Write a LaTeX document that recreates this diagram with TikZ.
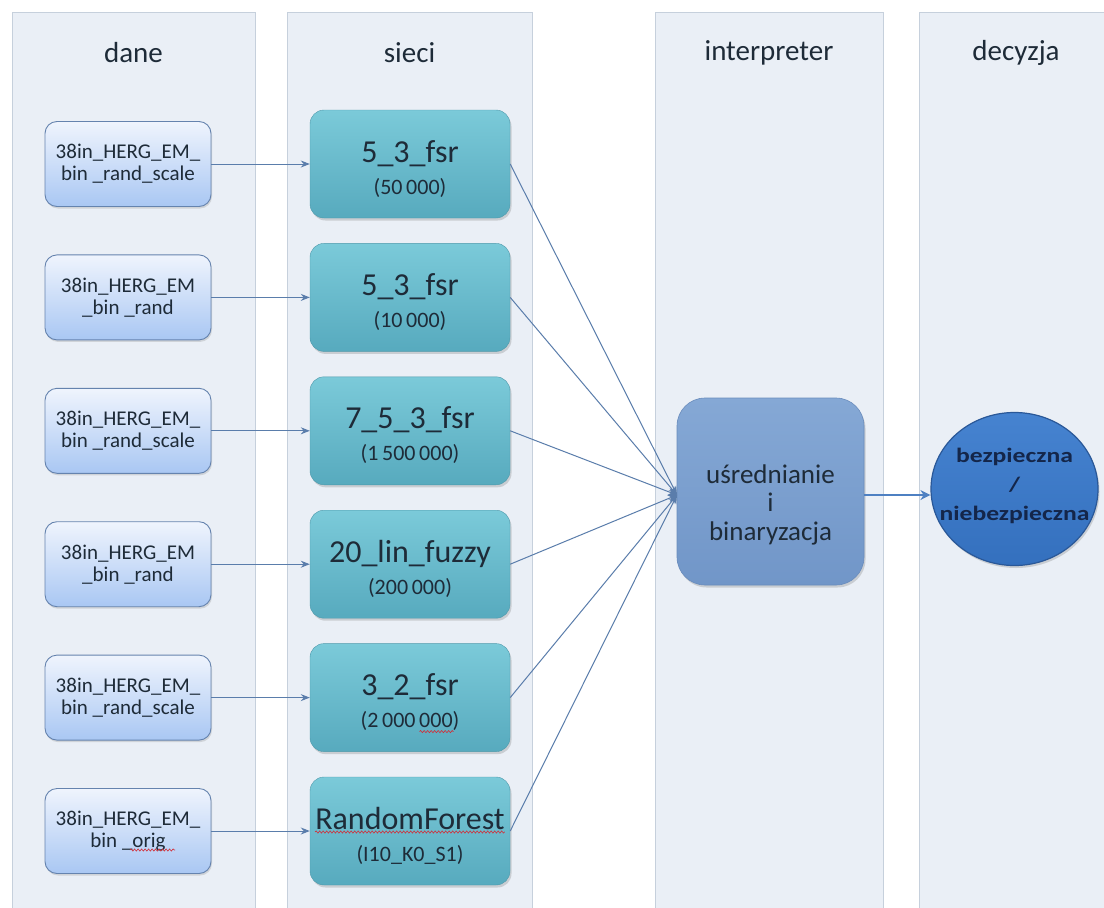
\documentclass[tikz,border=0pt]{standalone}
\usepackage{fontspec}
\usepackage{graphicx}
\setmainfont{Carlito}
\usetikzlibrary{shadows,arrows.meta,decorations.pathmorphing,calc,shapes.geometric}

\definecolor{colbg}{HTML}{EAEFF6}
\definecolor{colline}{HTML}{C6D0DC}
\definecolor{datatop}{HTML}{EFF4FD}
\definecolor{databot}{HTML}{A9C7F3}
\definecolor{dataedge}{HTML}{6583AE}
\definecolor{nettop}{HTML}{7BCAD9}
\definecolor{netbot}{HTML}{57AABE}
\definecolor{interptop}{HTML}{85A8D5}
\definecolor{interpbot}{HTML}{7196C8}
\definecolor{interpedge}{HTML}{6A8CBC}
\definecolor{dectop}{HTML}{4683D0}
\definecolor{decbot}{HTML}{3470BE}
\definecolor{decedge}{HTML}{2A5898}
\definecolor{conn}{HTML}{5A7DAB}
\definecolor{outconn}{HTML}{4E80C2}
\definecolor{txt}{HTML}{1E2B38}
\definecolor{dectxt}{HTML}{14264A}
\definecolor{squig}{HTML}{D0303A}

\tikzset{
  lane/.style={fill=colbg, draw=colline, line width=1pt},
  lanehead/.style={font=\fontsize{29}{34}\selectfont, text=txt},
  databox/.style={draw=dataedge, line width=0.9pt, rounded corners=12pt,
    top color=datatop, bottom color=databot,
    minimum width=166pt, minimum height=85pt, inner sep=0pt,
    align=center, font=\fontsize{21}{22}\selectfont, text=txt,
    drop shadow={shadow xshift=1pt, shadow yshift=-2pt, opacity=0.25}},
  netbox/.style={rounded corners=14pt, top color=nettop, bottom color=netbot,
    draw=netbot!90!black, line width=0.4pt,
    minimum width=200pt, minimum height=108pt, inner sep=0pt,
    drop shadow={shadow xshift=1.5pt, shadow yshift=-2.5pt, opacity=0.3}},
  nettitle/.style={font=\fontsize{32}{36}\selectfont, text=txt, anchor=base, inner sep=0pt},
  netsub/.style={font=\fontsize{22}{26}\selectfont, text=txt, anchor=base, inner sep=0pt},
  interpbox/.style={rounded corners=28pt, top color=interptop, bottom color=interpbot,
    draw=interpedge, line width=0.6pt, minimum width=187pt, minimum height=187pt,
    inner sep=0pt, drop shadow={shadow xshift=1.5pt, shadow yshift=-2.5pt, opacity=0.3}},
  interptext/.style={font=\fontsize{27}{28.5}\selectfont, text=txt, align=center,
    anchor=base, inner sep=0pt},
  decnode/.style={ellipse, top color=dectop, bottom color=decbot, draw=decedge,
    line width=1.2pt, minimum width=167pt, minimum height=153pt, inner sep=0pt,
    drop shadow={shadow xshift=1.5pt, shadow yshift=-2.5pt, opacity=0.3}},
  dectext/.style={font=\bfseries\fontsize{20.5}{29}\selectfont, text=dectxt, align=center,
    anchor=base, inner sep=0pt},
  link/.style={draw=conn, line width=1pt, -{Stealth[length=9pt,width=7pt]}},
  outlink/.style={draw=outconn, line width=2.6pt, -{Stealth[length=10pt,width=10pt]}},
  spell/.style={draw=squig, line width=0.6pt, decorate,
    decoration={snake, amplitude=1.1pt, segment length=3.5pt}},
}

\begin{document}
\begin{tikzpicture}[x=1pt,y=-1pt]
\useasboundingbox (0,0) rectangle (1104,908);
\fill[white] (0,0) rectangle (1104,908);

\begin{scope}
\clip (0,0) rectangle (1104,908);
% swimlanes
\draw[lane] (12,12) rectangle (255,930);
\draw[lane] (287,12) rectangle (532,930);
\draw[lane] (655,12) rectangle (883,930);
\draw[lane] (919,12) rectangle (1113,930);
\end{scope}

\node[lanehead] (hdane) at (133.5,53) {dane};
\node[lanehead] (hsieci) at (409.5,53) {sieci};
\node[lanehead] (hinterp) at (769,53) {interpreter};
\node[lanehead] (hdec) at (1016,53) {decyzja};

% input data sets
\node[databox] (d1) at (128,164)   {38in\_HERG\_EM\_\\bin \_rand\_scale};
\node[databox] (d2) at (128,297.4) {38in\_HERG\_EM\\\_bin \_rand};
\node[databox] (d3) at (128,430.8) {38in\_HERG\_EM\_\\bin \_rand\_scale};
\node[databox] (d4) at (128,564.2) {38in\_HERG\_EM\\\_bin \_rand};
\node[databox] (d5) at (128,697.6) {38in\_HERG\_EM\_\\bin \_rand\_scale};
\node[databox] (d6) at (128,831)   {38in\_HERG\_EM\_\\bin \_orig};

% networks
\node[netbox] (s1) at (410,164) {};
\node[netbox] (s2) at (410,297.4) {};
\node[netbox] (s3) at (410,430.8) {};
\node[netbox] (s4) at (410,564.2) {};
\node[netbox] (s5) at (410,697.6) {};
\node[netbox] (s6) at (410,831) {};

\node[nettitle] (s1t) at ($(s1.center)+(0,-2)$) {5\_3\_fsr};
\node[netsub]   (s1n) at ($(s1.center)+(0,30)$) {(50\,000)};
\node[nettitle] (s2t) at ($(s2.center)+(0,-2)$) {5\_3\_fsr};
\node[netsub]   (s2n) at ($(s2.center)+(0,30)$) {(10\,000)};
\node[nettitle] (s3t) at ($(s3.center)+(0,-2)$) {7\_5\_3\_fsr};
\node[netsub]   (s3n) at ($(s3.center)+(0,30)$) {(1\,500\,000)};
\node[nettitle] (s4t) at ($(s4.center)+(0,-2)$) {20\_lin\_fuzzy};
\node[netsub]   (s4n) at ($(s4.center)+(0,30)$) {(200\,000)};
\node[nettitle] (s5t) at ($(s5.center)+(0,-2)$) {3\_2\_fsr};
\node[netsub]   (s5n) at ($(s5.center)+(0,30)$) {(2\,000\,000)};
\node[nettitle] (s6t) at ($(s6.center)+(0,-2)$) {RandomForest};
\node[netsub]   (s6n) at ($(s6.center)+(0,30)$) {(I10\_K0\_S1)};

% interpreter (base anchor of a multi-line node sits on its last line)
\node[interpbox] (interp) at (770.5,491.5) {};
\node[interptext] (interpt) at (770.5,540) {uśrednianie\\i\\binaryzacja};
\coordinate (join) at (677,495);

% decision
\node[decnode] (dec) at (1014.5,489) {};
\node[dectext] (dect) at (1014.5,520)
  {\scalebox{1.25}[1]{bezpieczna}\\\scalebox{1.25}[1]{/}\\\scalebox{1.25}[1]{niebezpieczna}};

% connectors
\foreach \i in {1,...,6} {
  \draw[link] (d\i.east) -- (s\i.west);
  \draw[link] (s\i.east) -- (join);
}
\draw[outlink] (interp.east |- join) -- (dec.west |- join);

% spelling marks
\draw[spell] ($(d6.center)+(2,19)$) -- ($(d6.center)+(47,19)$);
\draw[spell] ($(s6t.base west)+(0,3)$) -- ($(s6t.base east)+(0,3)$);
\draw[spell] ($(s5n.base east)+(-40,4)$) -- ($(s5n.base east)+(-6,4)$);
\end{tikzpicture}
\end{document}
